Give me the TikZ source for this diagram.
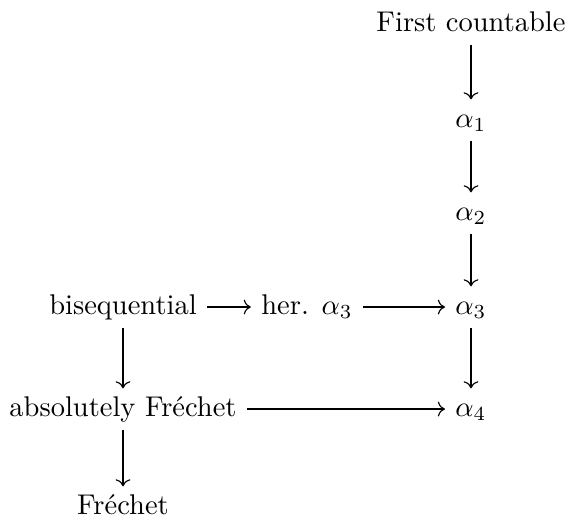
\documentclass[tikz,border=0pt]{standalone}
\usetikzlibrary{arrows.meta}
\begin{document}
\begin{tikzpicture}[x=0.3509pt,y=-0.3509pt,
  lbl/.style={anchor=base,inner xsep=3.5pt,inner ysep=2.6pt,text height=6.9pt,text depth=2pt},
  imp/.style={->,line width=0.4pt}]
\useasboundingbox (0,0) rectangle (569,524);
\node[lbl] (fc) at (471,31) {First countable};
\node[lbl] (a1) at (471,127) {$\alpha_1$};
\node[lbl] (a2) at (471,220) {$\alpha_2$};
\node[lbl] (a3) at (471,314) {$\alpha_3$};
\node[lbl] (a4) at (471,416) {$\alpha_4$};
\node[lbl] (bs) at (123,314) {bisequential};
\node[lbl] (ha) at (307,314) {her. $\alpha_3$};
\node[lbl] (af) at (123,416) {absolutely Fréchet};
\node[lbl] (fr) at (123,514) {Fréchet};
\draw[imp] (fc) -- (a1);
\draw[imp] (a1) -- (a2);
\draw[imp] (a2) -- (a3);
\draw[imp] (a3) -- (a4);
\draw[imp] (bs) -- (ha);
\draw[imp] (ha) -- (a3);
\draw[imp] (bs) -- (af);
\draw[imp] (af) -- (a4);
\draw[imp] (af) -- (fr);
\end{tikzpicture}
\end{document}
